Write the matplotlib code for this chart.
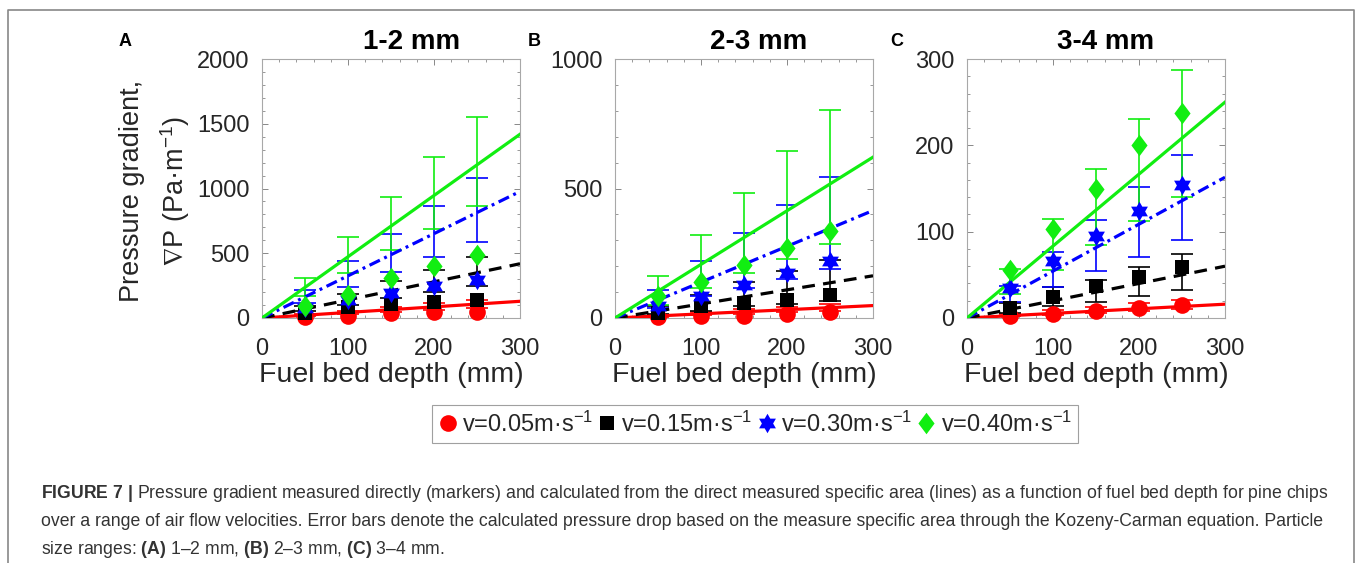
import matplotlib
matplotlib.use("Agg")
import matplotlib.pyplot as plt
from matplotlib.lines import Line2D
from matplotlib.path import Path
from matplotlib.ticker import MultipleLocator
import numpy as np

plt.rcParams["font.family"] = ["Liberation Sans", "DejaVu Sans"]
plt.rcParams["mathtext.fontset"] = "custom"
plt.rcParams["mathtext.rm"] = "Liberation Sans"
plt.rcParams["mathtext.it"] = "Liberation Sans:italic"
plt.rcParams["mathtext.bf"] = "Liberation Sans:bold"
plt.rcParams["mathtext.fallback"] = "stixsans"

# fuel bed depths (mm)
depth = [50, 100, 150, 200, 250]
velocity_labels = ["v=0.05m·s$^{-1}$", "v=0.15m·s$^{-1}$",
                   "v=0.30m·s$^{-1}$", "v=0.40m·s$^{-1}$"]

# rows: v = 0.05, 0.15, 0.30, 0.40 m/s
# 1-2 mm chips
meas_a = [[5, 18, 35, 50, 45],
          [40, 85, 110, 125, 140],
          [75, 140, 195, 245, 295],
          [90, 180, 308, 398, 488]]
lo_a = [[15, 30, 45, 60, 75],
        [51, 103, 154, 200, 249],
        [116, 237, 355, 470, 589],
        [167, 347, 522, 689, 866]]
hi_a = [[28, 56, 85, 112, 140],
        [95, 188, 288, 373, 468],
        [218, 437, 650, 866, 1082],
        [311, 622, 938, 1247, 1555]]
line_a = [129, 419, 977, 1419]   # Kozeny-Carman value at 300 mm

# 2-3 mm chips
meas_b = [[3, 6, 9, 17, 22],
          [19, 45, 58, 71, 90],
          [45, 84, 129, 174, 222],
          [84, 138, 204, 270, 337]]
lo_b = [[5, 11, 16, 22, 27],
        [17, 26, 45, 54, 64],
        [39, 86, 116, 150, 189],
        [51, 116, 174, 229, 287]]
hi_b = [[11, 22, 33, 44, 55],
        [45, 90, 138, 180, 225],
        [109, 219, 328, 437, 546],
        [161, 321, 482, 643, 803]]
line_b = [48, 163, 415, 621]

# 3-4 mm chips
meas_c = [[2, 5, 8, 12, 15],
          [12, 24, 37, 48, 59],
          [35, 66, 95, 124, 154],
          [56, 103, 149, 200, 238]]
lo_c = [[2, 4, 6, 8, 10],
        [6, 14, 19, 26, 33],
        [19, 36, 54, 71, 90],
        [28, 56, 84, 112, 140]]
hi_c = [[5, 9, 13, 17, 21],
        [17, 36, 44, 59, 74],
        [37, 76, 114, 152, 189],
        [57, 115, 173, 230, 287]]
line_c = [16, 60, 163, 250]

# six-pointed star marker
ang = np.deg2rad(90 + 30 * np.arange(12))
rad = np.where(np.arange(12) % 2 == 0, 1.0, 1 / np.sqrt(3))
hexagram = Path(np.column_stack([rad * np.cos(ang), rad * np.sin(ang)]))
diamond = Path([(0, 1), (0.75, 0), (0, -1), (-0.75, 0), (0, 1)])

colors = ["#ff0000", "#000000", "#0000ff", "#11ee11"]
markers = ["o", "s", hexagram, diamond]
msizes = [12, 9.5, 14, 15.5]
linestyles = ["-", (0, (4, 2.6)), (0, (3.6, 1.5, 0.9, 1.5)), "-"]

W, H = 1357, 563
fig = plt.figure(figsize=(W / 100, H / 100), dpi=100)

panels = [
    (262, "A", "1-2 mm", 412, 125, 2000, 500, 100, meas_a, lo_a, hi_a, line_a),
    (615, "B", "2-3 mm", 759, 534, 1000, 500, 100, meas_b, lo_b, hi_b, line_b),
    (967, "C", "3-4 mm", 1106, 897, 300, 100, 20, meas_c, lo_c, hi_c, line_c),
]

for (x0, letter, title, tx, lx, ymax, ymaj, ymin, meas, lo, hi, line_end) in panels:
    ax = fig.add_axes([x0 / W, 1 - 318 / H, 258 / W, 259 / H])
    for i in range(4):
        lo_i, hi_i = np.array(lo[i]), np.array(hi[i])
        mid = (lo_i + hi_i) / 2
        ax.errorbar(depth, mid, yerr=(hi_i - lo_i) / 2, fmt="none",
                    ecolor=colors[i], elinewidth=1.2, capsize=8,
                    capthick=1.2, zorder=2)
    for i in range(4):
        ax.plot([0, 300], [0, line_end[i]], color=colors[i],
                linestyle=linestyles[i], linewidth=2.3, zorder=3)
    for i in range(4):
        ax.plot(depth, meas[i], linestyle="none", marker=markers[i],
                markersize=msizes[i], color=colors[i], markeredgewidth=0,
                clip_on=False, zorder=4)

    ax.set_xlim(0, 300)
    ax.set_ylim(0, ymax)
    ax.xaxis.set_major_locator(MultipleLocator(100))
    ax.xaxis.set_minor_locator(MultipleLocator(20))
    ax.yaxis.set_major_locator(MultipleLocator(ymaj))
    ax.yaxis.set_minor_locator(MultipleLocator(ymin))
    ax.tick_params(which="both", direction="in", top=True, right=True,
                   color="#888888", labelcolor="#262626", labelsize=17)
    ax.tick_params(which="major", length=4, width=0.7)
    ax.tick_params(which="minor", length=2.2, width=0.6)
    ax.tick_params(axis="x", pad=14.5)
    ax.tick_params(axis="y", pad=9)
    for sp in ax.spines.values():
        sp.set_color("#a8a8a8")
        sp.set_linewidth(0.8)
    ax.set_xlabel("Fuel bed depth (mm)", fontsize=20.5, color="#262626",
                  labelpad=1)

    fig.text(tx / W, 1 - 42 / H, title, fontsize=20, fontweight="bold",
             ha="center", va="center")
    fig.text(lx / W, 1 - 42 / H, letter, fontsize=13, fontweight="bold",
             ha="center", va="center")

fig.text(132 / W, 1 - 191 / H, "Pressure gradient,", rotation=90,
         fontsize=19.5, color="#262626", ha="center", va="center")
fig.text(175 / W, 1 - 191 / H, r"$\nabla$P (Pa·m$^{-1}$)", rotation=90,
         fontsize=19.5, color="#262626", ha="center", va="center")

handles = [Line2D([], [], linestyle="none", marker=markers[i],
                  markersize=msizes[i], color=colors[i], markeredgewidth=0)
           for i in range(4)]
leg = fig.legend(handles, velocity_labels, loc="center",
                 bbox_to_anchor=(755 / W, 1 - 424 / H), ncol=4,
                 fontsize=17, handlelength=0.8, handletextpad=0.2,
                 columnspacing=0.2, borderpad=0.25, borderaxespad=0,
                 fancybox=False, edgecolor="#a0a0a0", framealpha=1)
leg.get_frame().set_linewidth(0.8)
for t in leg.get_texts():
    t.set_color("#262626")

# caption
caption = [
    r"$\mathbf{FIGURE\ 7\ |}$ Pressure gradient measured directly (markers) and "
    r"calculated from the direct measured specific area (lines) as a function of "
    r"fuel bed depth for pine chips",
    "over a range of air flow velocities. Error bars denote the calculated "
    "pressure drop based on the measure specific area through the "
    "Kozeny-Carman equation. Particle",
    r"size ranges: $\mathbf{(A)}$ 1–2 mm, $\mathbf{(B)}$ 2–3 mm, "
    r"$\mathbf{(C)}$ 3–4 mm.",
]
for k, line in enumerate(caption):
    fig.text(41 / W, 1 - (494 + 27.5 * k) / H, line, fontsize=12.7,
             color="#333333", ha="left", va="center")

# outer frame, open at the bottom edge
fig.add_artist(Line2D([8 / W, 8 / W, 1354 / W, 1354 / W],
                      [0, 1 - 10 / H, 1 - 10 / H, 0],
                      transform=fig.transFigure, color="#888888",
                      linewidth=1.2))

fig.savefig("out.png", dpi=100, facecolor="white")
